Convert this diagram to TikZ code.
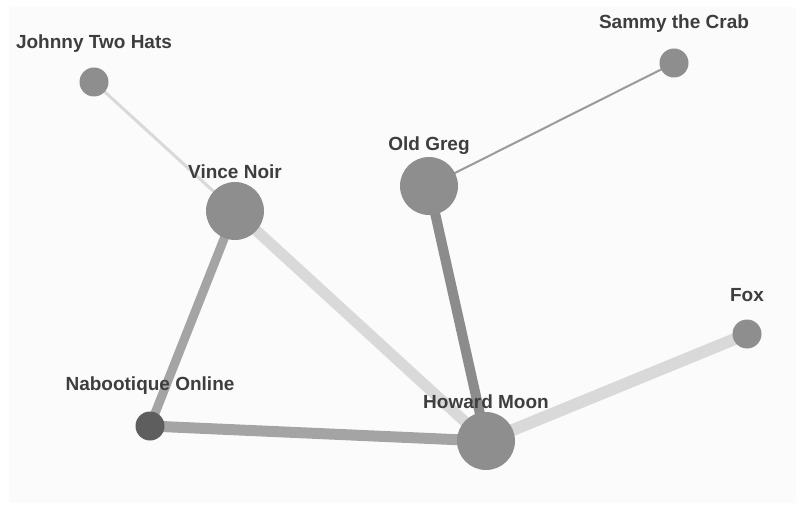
\documentclass[tikz,border=0pt]{standalone}
\usepackage{fontspec}
\setmainfont{Liberation Sans}
\usepackage{tikz}
\usetikzlibrary{backgrounds}

\definecolor{panel}{HTML}{FBFBFB}
\definecolor{dotgray}{HTML}{8E8E8E}
\definecolor{dotdark}{HTML}{5E5E5E}
\definecolor{tagtext}{HTML}{3E3E3E}
\definecolor{linkpale}{HTML}{D9D9D9}
\definecolor{linkmid}{HTML}{A4A4A4}
\definecolor{linkdark}{HTML}{8C8C8C}
\definecolor{linkthin}{HTML}{9A9A9A}

\tikzset{
  person/.style={circle, fill=dotgray, inner sep=0pt, minimum size=#1},
  person/.default=29pt,
  tag/.style={text=tagtext, font=\fontsize{19}{21}\selectfont\bfseries, inner sep=0pt},
  link/.style={line width=#1}
}

\begin{document}
\begin{tikzpicture}[x=1pt,y=-1pt]
	\useasboundingbox (0,0) rectangle (803,508);
	\begin{pgfonlayer}{background}
		\fill [panel] (9,7) rectangle (796,503);
	\end{pgfonlayer}
	% people
	\node [person] (johnny) at (94,82) {};
	\node [person] (sammy) at (674,63) {};
	\node [person=58pt] (greg) at (429,186) {};
	\node [person=58pt] (vince) at (235,211) {};
	\node [person] (fox) at (747,334) {};
	\node [person, fill=dotdark] (naboo) at (150,426) {};
	\node [person=58pt] (howard) at (486,441) {};
	% names
	\node [tag] (johnny-tag) at ([yshift=38pt]johnny.center) {Johnny Two Hats};
	\node [tag] (sammy-tag) at ([yshift=39pt]sammy.center) {Sammy the Crab};
	\node [tag] (greg-tag) at ([yshift=40pt]greg.center) {Old Greg};
	\node [tag] (vince-tag) at ([yshift=39pt]vince.center) {Vince Noir};
	\node [tag] (fox-tag) at ([yshift=39pt]fox.center) {Fox};
	\node [tag] (naboo-tag) at ([yshift=40pt]naboo.center) {Nabootique Online};
	\node [tag] (howard-tag) at ([yshift=39pt]howard.center) {Howard Moon};
	% links
	\begin{pgfonlayer}{background}
		\draw [linkpale, link=3pt] (johnny.center) -- (vince.center);
		\draw [linkthin, link=2pt] (sammy.center) -- (greg.center);
		\draw [linkmid, link=9pt] (vince.center) -- (naboo.center);
		\draw [linkpale, link=11pt] (vince.center) -- (howard.center);
		\draw [linkdark, link=10pt] (greg.center) -- (howard.center);
		\draw [linkmid, link=11pt] (naboo.center) -- (howard.center);
		\draw [linkpale, link=12pt] (fox.center) -- (howard.center);
	\end{pgfonlayer}
\end{tikzpicture}
\end{document}
